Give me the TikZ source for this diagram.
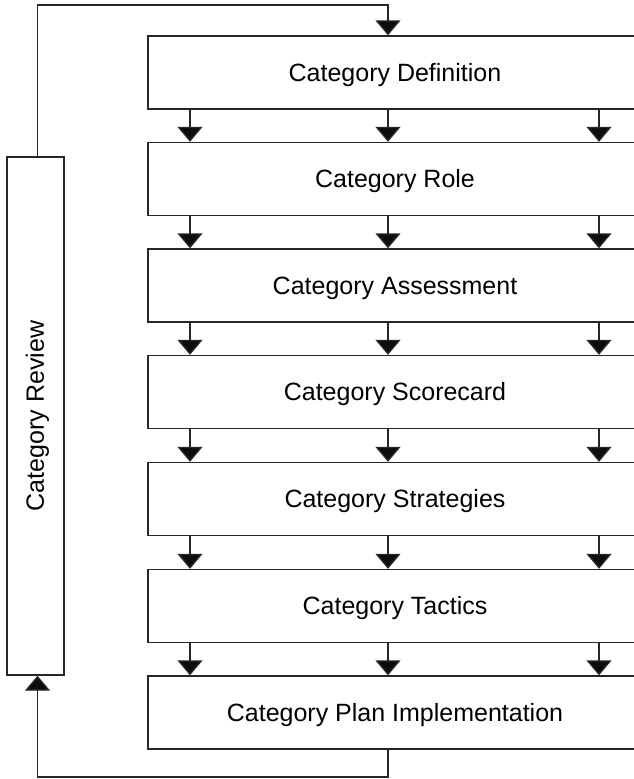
\documentclass[tikz,border=0pt]{standalone}
\usepackage{fontspec}
\setmainfont{Liberation Sans}
\usetikzlibrary{arrows.meta}
\begin{document}
\begin{tikzpicture}[x=1pt,y=-1pt,
  stage/.style={draw=black!85, line width=1.4pt, fill=white, minimum width=494pt,
    minimum height=73pt, inner sep=0pt, text height=17pt, text depth=0pt,
    font=\fontsize{25}{29}\selectfont},
  review/.style={draw=black!85, line width=1.4pt, fill=white, minimum width=57pt,
    minimum height=518pt, inner sep=0pt, font=\fontsize{25}{29}\selectfont},
  flow/.style={draw=black!85, line width=1.4pt,
    -{Triangle[width=25pt,length=15pt,fill=black!95]}}]
\useasboundingbox (0,0) rectangle (634,779);
\clip (0,0) rectangle (634,779);
\fill[white] (0,0) rectangle (634,779);

% stage boxes, running past the right edge
\node[stage] (b1) at (395,72.5)  {Category Definition};
\node[stage] (b2) at (395,179)   {Category Role};
\node[stage] (b3) at (395,285.5) {Category Assessment};
\node[stage] (b4) at (395,392)   {Category Scorecard};
\node[stage] (b5) at (395,499)   {Category Strategies};
\node[stage] (b6) at (395,606)   {Category Tactics};
\node[stage] (b7) at (395,712.5) {Category Plan Implementation};

% review box on the left, text set upright along the box
\node[review] (rv) at (35.5,416)
  {\rotatebox{90}{\raisebox{0pt}[17pt][0pt]{Category Review}}};

% arrow columns
\coordinate (c1) at (190,0);
\coordinate (c2) at (388,0);
\coordinate (c3) at (599,0);
\coordinate (lx) at (37.5,0);

\foreach \a/\b in {b1/b2,b2/b3,b3/b4,b4/b5,b5/b6,b6/b7}{
  \foreach \c in {c1,c2,c3}{
    \draw[flow] (\a.south -| \c) -- (\b.north -| \c);
  }
}

% feedback loop
\coordinate (tl) at (37.5,5);
\coordinate (tr) at (388,5);
\coordinate (bl) at (37.5,777);
\coordinate (br) at (388,777);
\draw[flow] (lx |- rv.north) -- (tl) -- (tr) -- (b1.north -| c2);
\draw[flow] (b7.south -| c2) -- (br) -- (bl) -- (lx |- rv.south);
\end{tikzpicture}
\end{document}
